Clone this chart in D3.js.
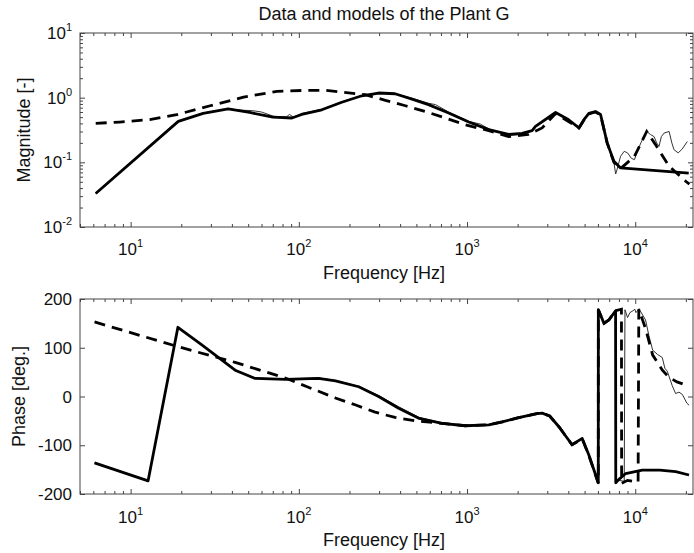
<!DOCTYPE html>
<html>
<head>
<meta charset="utf-8">
<script src="https://cdn.jsdelivr.net/npm/d3@7"></script>
<style>
  body { margin: 0; background: #fff; }
  svg { display: block; font-family: "Liberation Sans", Arial, sans-serif; }
</style>
</head>
<body>
<div id="chart"></div>
<script>
// Bode data of plant G: [frequency Hz, value]
const magData = [
  [6.2, 0.033], [19.2, 0.43], [27, 0.58], [38, 0.67], [46, 0.64], [53, 0.63], [60, 0.6],
  [70, 0.52], [84, 0.5], [88, 0.55], [93, 0.5], [104, 0.57], [137, 0.66], [180, 0.86],
  [237, 1.08], [298, 1.19], [373, 1.16], [471, 0.98], [590, 0.82], [650, 0.78], [777, 0.6],
  [1024, 0.43], [1200, 0.39], [1346, 0.33], [1767, 0.26], [2125, 0.27], [2437, 0.31],
  [2551, 0.35], [3360, 0.58], [4000, 0.46], [4626, 0.34], [4955, 0.45], [5300, 0.57],
  [5800, 0.6], [6220, 0.56], [6810, 0.2], [7465, 0.1], [7650, 0.066], [7800, 0.078],
  [8180, 0.124], [8600, 0.148], [9000, 0.14], [9500, 0.115], [9900, 0.11], [10200, 0.14],
  [10800, 0.2], [11700, 0.3], [12300, 0.27], [12940, 0.25], [13400, 0.2], [13850, 0.177],
  [14300, 0.25], [14850, 0.284], [15900, 0.3], [16500, 0.2], [17000, 0.157], [18000, 0.14],
  [19000, 0.16], [20400, 0.21]
];
const magModelA = [
  [6.2, 0.033], [19.2, 0.43], [27, 0.57], [38, 0.67], [51, 0.59], [70, 0.5], [91, 0.485],
  [104, 0.55], [137, 0.65], [180, 0.85], [237, 1.07], [298, 1.18], [373, 1.15], [471, 0.95],
  [590, 0.78], [777, 0.58], [1024, 0.42], [1346, 0.32], [1767, 0.27], [2125, 0.28],
  [2437, 0.31], [2551, 0.36], [3360, 0.59], [4000, 0.46], [4626, 0.34], [4955, 0.457],
  [5300, 0.57], [5800, 0.61], [6220, 0.55], [6810, 0.2], [7465, 0.104], [8180, 0.082],
  [20800, 0.068]
];
const magModelB = [
  [6.2, 0.4], [8.6, 0.42], [13, 0.457], [18.8, 0.546], [29.7, 0.75], [46.9, 1.02],
  [74, 1.25], [111, 1.3], [143, 1.3], [184, 1.21], [248, 1.11], [327, 0.91], [430, 0.75],
  [565, 0.61], [743, 0.485], [977, 0.38], [1346, 0.31], [1767, 0.25], [2310, 0.27],
  [2795, 0.34], [3360, 0.57], [4626, 0.34], [4955, 0.45], [5300, 0.56], [5800, 0.6],
  [6220, 0.54], [6810, 0.2], [7465, 0.1], [8180, 0.08], [9900, 0.124], [11700, 0.3],
  [13200, 0.188], [15900, 0.087], [19950, 0.051], [21000, 0.046]
];
const phaseData = [
  [6.1, -136], [12.7, -172], [19.1, 141], [26.5, 106], [41.8, 55], [55, 38], [83, 36],
  [131, 38], [165, 33], [227, 21], [298, 2], [392, -21], [520, -43], [710, -54], [977, -59],
  [1346, -58], [1620, -52], [2000, -43], [2600, -34], [2795, -33], [3100, -40], [3518, -62],
  [4210, -98], [4840, -85], [5300, -119], [6030, -177], [6035, 178], [6520, 152],
  [6970, 158], [7640, 176], [7660, -177], [8000, -172], [8600, -174], [8690, 178],
  [9000, 162], [9300, 172], [9700, 176], [9950, 179], [10100, 172], [10520, 180],
  [11520, 157], [12050, 125], [12700, 95], [13600, 86], [14480, 80], [15000, 58],
  [15500, 52], [16600, 22], [17380, 6], [18200, 9], [19070, 4], [20300, -14], [20900, -18]
];
const phaseModelA = [
  [6.1, -136], [12.7, -173], [19.1, 142], [26.5, 106], [41.8, 54], [55, 37], [83, 35],
  [131, 37], [165, 32], [227, 20], [298, 0], [392, -24], [520, -45], [710, -55], [977, -60],
  [1346, -58], [1620, -52], [2000, -44], [2600, -35], [2795, -34], [3100, -40], [3518, -62],
  [4210, -99], [4840, -86], [5300, -120], [6030, -177], [6035, 178], [6520, 150],
  [6970, 157], [7640, 176], [7660, -177], [8000, -170], [8770, -158], [11010, -151],
  [14000, -151], [17400, -154], [20880, -161]
];
const phaseModelB = [
  [6.1, 153], [19.2, 102], [41.8, 70], [83, 38], [112, 20], [165, -3], [216, -17],
  [284, -32], [373, -43], [494, -50], [710, -55], [977, -60], [1346, -58], [1620, -52],
  [2000, -44], [2600, -35], [2795, -34], [3100, -40], [3518, -62], [4210, -99], [4840, -87],
  [5300, -121], [6030, -178], [6035, 178], [6520, 150], [6970, 157], [7640, 176],
  [8280, 179], [8300, -178], [9000, -172], [10400, -176], [10500, 179], [11500, 140],
  [12700, 85], [14500, 54], [15800, 40], [17700, 30], [20300, 23]
];

const freqDomain = [5, 22050];
const freqTicks = [10, 100, 1000, 10000];
const magDomain = [0.01, 10];
const magTicks = [0.01, 0.1, 1, 10];
const phaseDomain = [-200, 200];
const phaseTicks = [-200, -100, 0, 100, 200];

const W = 694, H = 553;
const left = 80, right = 693;
const tickFont = '17px';
const labelFont = '18px';

const svg = d3.select('#chart').append('svg')
  .attr('width', W)
  .attr('height', H);

// minor ticks for log axes (2..9 per decade)
function logMinor(domain) {
  const out = [];
  for (let e = -3; e <= 5; e++) {
    for (let k = 2; k <= 9; k++) {
      const v = k * Math.pow(10, e);
      if (v >= domain[0] && v <= domain[1]) out.push(v);
    }
  }
  return out;
}

// "10" with a superscript exponent
function powerLabel(sel) {
  sel.each(function(d) {
    const t = d3.select(this);
    const e = Math.round(Math.log10(d));
    t.text('10');
    t.append('tspan')
      .attr('dy', '-0.75em')
      .style('font-size', '11px')
      .text(e);
  });
}

// inward ticks without labels
function tickAxis(g, axis, transform, size) {
  g.append('g')
    .attr('transform', transform)
    .call(axis.tickSize(-size).tickFormat(''))
    .call(s => s.select('.domain').remove())
    .call(s => s.selectAll('text').remove())
    .call(s => s.selectAll('line').attr('stroke', '#444'));
}

function drawPanel(cfg) {
  const x = d3.scaleLog().domain(freqDomain).range([left, right]);
  const y = cfg.y;
  const g = svg.append('g');
  const top = cfg.top, bottom = cfg.bottom;
  const minorX = logMinor(freqDomain);

  // major + minor ticks on all four sides
  tickAxis(g, d3.axisBottom(x).tickValues(freqTicks), `translate(0,${bottom})`, 5);
  tickAxis(g, d3.axisTop(x).tickValues(freqTicks), `translate(0,${top})`, 5);
  tickAxis(g, d3.axisLeft(y).tickValues(cfg.ticks), `translate(${left},0)`, 5);
  tickAxis(g, d3.axisRight(y).tickValues(cfg.ticks), `translate(${right},0)`, 5);
  tickAxis(g, d3.axisBottom(x).tickValues(minorX), `translate(0,${bottom})`, 3);
  tickAxis(g, d3.axisTop(x).tickValues(minorX), `translate(0,${top})`, 3);
  if (cfg.minorY) {
    tickAxis(g, d3.axisLeft(y).tickValues(cfg.minorY), `translate(${left},0)`, 3);
    tickAxis(g, d3.axisRight(y).tickValues(cfg.minorY), `translate(${right},0)`, 3);
  }

  // x tick labels 10^n
  g.append('g')
    .selectAll('text')
    .data(freqTicks)
    .join('text')
    .attr('x', d => x(d))
    .attr('y', cfg.xLabelY)
    .attr('text-anchor', 'middle')
    .style('font-size', tickFont)
    .attr('fill', '#111')
    .call(powerLabel);

  // y tick labels
  const yl = g.append('g')
    .selectAll('text')
    .data(cfg.ticks)
    .join('text')
    .attr('x', left - 8)
    .attr('y', d => y(d))
    .attr('dy', '0.36em')
    .attr('text-anchor', 'end')
    .style('font-size', tickFont)
    .attr('fill', '#111');
  if (cfg.logY) yl.call(powerLabel);
  else yl.text(d => d);

  // frame
  g.append('rect')
    .attr('x', left).attr('y', top)
    .attr('width', right - left).attr('height', bottom - top)
    .attr('fill', 'none')
    .attr('stroke', '#444')
    .attr('stroke-width', 1);

  const line = d3.line()
    .x(d => x(d[0]))
    .y(d => y(d[1]));

  g.append('path').datum(cfg.data)
    .attr('fill', 'none').attr('stroke', '#333').attr('stroke-width', 1)
    .attr('d', line);
  g.append('path').datum(cfg.modelB)
    .attr('fill', 'none').attr('stroke', '#000').attr('stroke-width', 2.8)
    .attr('stroke-dasharray', '11,7')
    .attr('d', line);
  g.append('path').datum(cfg.modelA)
    .attr('fill', 'none').attr('stroke', '#000').attr('stroke-width', 2.8)
    .attr('stroke-linejoin', 'round')
    .attr('d', line);

  // axis titles
  g.append('text')
    .attr('x', 384)
    .attr('y', cfg.xTitleY)
    .attr('text-anchor', 'middle')
    .style('font-size', labelFont)
    .attr('fill', '#111')
    .text('Frequency [Hz]');

  g.append('text')
    .attr('transform', `translate(${cfg.yTitleX},${(top + bottom) / 2}) rotate(-90)`)
    .attr('text-anchor', 'middle')
    .style('font-size', labelFont)
    .attr('fill', '#111')
    .text(cfg.yTitle);
}

// Magnitude panel
const magTop = 33, magBottom = 227;
drawPanel({
  top: magTop, bottom: magBottom,
  y: d3.scaleLog().domain(magDomain).range([magBottom, magTop]),
  ticks: magTicks, minorY: logMinor(magDomain), logY: true,
  data: magData, modelA: magModelA, modelB: magModelB,
  xLabelY: 255, xTitleY: 279, yTitle: 'Magnitude [-]', yTitleX: 30
});

// Phase panel
const phTop = 299, phBottom = 494;
drawPanel({
  top: phTop, bottom: phBottom,
  y: d3.scaleLinear().domain(phaseDomain).range([phBottom, phTop]),
  ticks: phaseTicks, minorY: null, logY: false,
  data: phaseData, modelA: phaseModelA, modelB: phaseModelB,
  xLabelY: 523, xTitleY: 546, yTitle: 'Phase [deg.]', yTitleX: 25
});

// Title
svg.append('text')
  .attr('x', 384)
  .attr('y', 20)
  .attr('text-anchor', 'middle')
  .style('font-size', labelFont)
  .attr('fill', '#111')
  .text('Data and models of the Plant G');
</script>
</body>
</html>
